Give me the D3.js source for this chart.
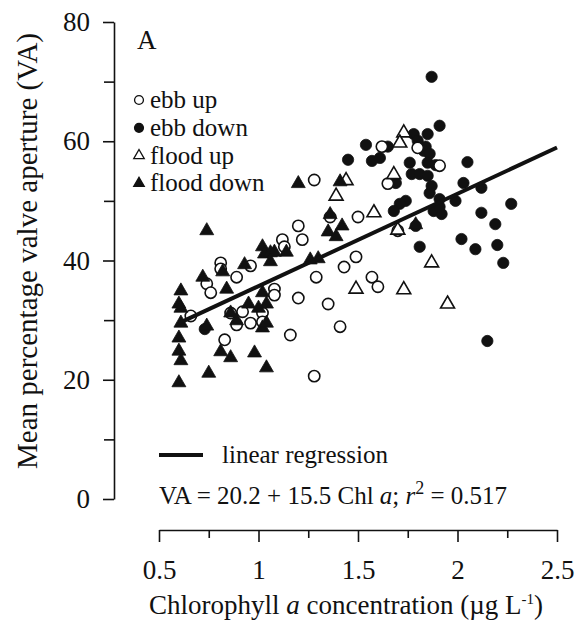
<!DOCTYPE html>
<html>
<head>
<meta charset="utf-8">
<script src="https://cdn.jsdelivr.net/npm/d3@7"></script>
<style>
  body { margin: 0; background: #fff; }
  svg text { font-family: "Liberation Serif", "Times New Roman", serif; fill: #111; }
</style>
</head>
<body>
<div class="container"></div>
<script>
// Chlorophyll a (x) vs mean percentage valve aperture (y), one array per group.
const ebbUp = [
  [1.28, 53.5], [1.65, 52.9], [1.62, 59.1], [1.80, 58.9], [1.91, 55.9], [1.70, 45.0],
  [1.50, 47.3], [1.49, 40.6], [1.43, 38.9], [1.57, 37.2], [1.60, 35.6], [1.41, 28.9],
  [1.29, 37.2], [1.35, 32.7], [1.20, 33.7], [1.16, 27.5], [1.28, 20.6], [1.20, 45.8],
  [1.22, 43.5], [1.12, 43.5], [1.13, 42.3], [0.81, 39.6], [0.81, 38.6], [0.96, 39.1],
  [0.89, 37.2], [0.74, 36.1], [0.76, 34.6], [0.66, 30.7], [0.83, 26.7], [1.08, 35.2],
  [1.08, 34.2], [0.86, 31.2], [0.92, 31.4], [0.89, 29.2], [0.96, 29.5], [1.02, 31.2],
  [1.02, 29.7], [1.36, 47.3]
];
const ebbDown = [
  [1.87, 70.8], [1.91, 62.6], [1.85, 61.2], [1.78, 61.2], [1.80, 60.1], [1.81, 59.1],
  [1.84, 59.1], [1.83, 58.4], [1.86, 57.9], [1.85, 56.4], [1.89, 56.0], [1.54, 59.4],
  [1.65, 59.1], [1.57, 56.7], [1.61, 57.2], [1.45, 56.9], [2.05, 56.5], [1.76, 56.4],
  [1.69, 53.0], [1.77, 54.5], [1.81, 54.5], [1.85, 54.2], [1.87, 52.5], [1.86, 51.3],
  [2.03, 53.0], [2.12, 52.2], [1.99, 50.0], [1.91, 50.3], [1.88, 48.3], [1.92, 47.8],
  [1.91, 49.0], [1.74, 50.0], [1.71, 49.5], [1.68, 48.3], [2.27, 49.5], [2.12, 48.0],
  [2.19, 46.1], [1.81, 42.3], [2.02, 43.6], [2.09, 41.9], [2.20, 42.6], [2.23, 39.6],
  [2.15, 26.5], [1.79, 45.8], [0.73, 28.5]
];
const floodUp = [
  [1.73, 61.4], [1.71, 59.7], [1.68, 54.4], [1.44, 53.4], [1.39, 50.8], [1.58, 48.0],
  [1.70, 45.1], [1.87, 39.6], [1.49, 35.2], [1.73, 35.1], [1.95, 32.7]
];
const floodDown = [
  [1.20, 52.9], [1.41, 53.2], [1.36, 47.7], [1.42, 45.8], [1.35, 44.8], [1.39, 44.0],
  [1.79, 46.0], [1.26, 40.1], [1.30, 40.3], [1.02, 42.3], [1.03, 41.1], [1.06, 41.3],
  [1.08, 41.4], [1.14, 41.4], [1.06, 39.8], [0.74, 45.0], [0.93, 39.3], [0.82, 38.1],
  [0.72, 37.2], [0.84, 35.2], [0.61, 34.9], [0.60, 32.7], [0.61, 32.0], [0.61, 29.5],
  [0.60, 27.0], [0.60, 24.8], [0.61, 23.2], [0.60, 19.5], [0.74, 29.0], [0.81, 24.7],
  [0.86, 23.7], [0.98, 24.5], [0.75, 21.1], [1.04, 22.0], [0.95, 32.7], [1.00, 32.0],
  [1.04, 32.7], [0.89, 29.9], [1.02, 28.7], [1.04, 29.5], [1.02, 34.6], [0.86, 31.2]
];

// regression VA = 20.2 + 15.5 Chl a
const regIntercept = 20.2;
const regSlope = 15.5;
const regRange = [0.6, 2.5];

const xMajor = [0.5, 1, 1.5, 2, 2.5];
const xMinor = [0.75, 1.25, 1.75, 2.25];
const yMajor = [0, 20, 40, 60, 80];
const yMinor = [10, 30, 50, 70];

const legendItems = ["ebb up", "ebb down", "flood up", "flood down"];

const width = 576, height = 620;

const svg = d3.select(".container").append("svg")
  .attr("width", width)
  .attr("height", height);

const x = d3.scaleLinear().domain([0.5, 2.5]).range([159, 557]);
const y = d3.scaleLinear().domain([0, 80]).range([499, 22]);

// axes (SigmaPlot style, detached)
svg.append("g").attr("transform", "translate(114,0)")
  .call(d3.axisLeft(y).tickValues(yMajor).tickSize(11).tickSizeOuter(0).tickPadding(13));
svg.append("g").attr("transform", "translate(114,0)")
  .call(d3.axisLeft(y).tickValues(yMinor).tickSize(10).tickSizeOuter(0).tickFormat(""))
  .select(".domain").remove();

svg.append("g").attr("transform", "translate(0,530)")
  .call(d3.axisBottom(x).tickValues(xMajor).tickSize(12).tickSizeOuter(0).tickPadding(18)
    .tickFormat(d => String(d)));
svg.append("g").attr("transform", "translate(0,530)")
  .call(d3.axisBottom(x).tickValues(xMinor).tickSize(8).tickSizeOuter(0).tickFormat(""))
  .select(".domain").remove();

svg.selectAll(".tick line, .domain").attr("stroke", "#111").attr("stroke-width", 1.6);
svg.selectAll(".tick text")
  .style("font-family", '"Liberation Serif", "Times New Roman", serif')
  .style("font-size", "27px")
  .attr("fill", "#111");

// axis titles
const xTitle = svg.append("text")
  .attr("x", 346).attr("y", 614)
  .attr("text-anchor", "middle")
  .style("font-size", "27px");
xTitle.append("tspan").text("Chlorophyll ");
xTitle.append("tspan").style("font-style", "italic").text("a");
xTitle.append("tspan").text(" concentration (\u00b5g L");
xTitle.append("tspan").attr("dy", -10).style("font-size", "15px").text("-1");
xTitle.append("tspan").attr("dy", 10).text(")");

svg.append("text")
  .attr("transform", "translate(37,251) rotate(-90)")
  .attr("text-anchor", "middle")
  .attr("textLength", 436)
  .attr("lengthAdjust", "spacingAndGlyphs")
  .style("font-size", "29px")
  .text("Mean percentage valve aperture (VA)");

// panel letter
svg.append("text").attr("x", 137).attr("y", 49)
  .style("font-size", "27px").text("A");

// markers
const circleSym = d3.symbol().type(d3.symbolCircle).size(100);
const triSym = d3.symbol().type(d3.symbolTriangle).size(84);

function drawSeries(data, sym, filled) {
  svg.append("g").selectAll("path")
    .data(data)
    .enter()
    .append("path")
    .attr("d", sym)
    .attr("transform", d => `translate(${x(d[0])},${y(d[1])})`)
    .attr("fill", filled ? "#111" : "#fff")
    .attr("stroke", "#111")
    .attr("stroke-width", filled ? 0.8 : 1.6);
}

drawSeries(ebbDown, circleSym, true);
drawSeries(ebbUp, circleSym, false);
drawSeries(floodUp, triSym, false);
drawSeries(floodDown, triSym, true);

// regression line
const line = d3.line().x(d => x(d)).y(d => y(regIntercept + regSlope * d));
svg.append("path")
  .attr("d", line(regRange))
  .attr("fill", "none")
  .attr("stroke", "#111")
  .attr("stroke-width", 4);

// symbol legend
const legSyms = [
  { sym: d3.symbol().type(d3.symbolCircle).size(62), filled: false },
  { sym: d3.symbol().type(d3.symbolCircle).size(62), filled: true },
  { sym: d3.symbol().type(d3.symbolTriangle).size(48), filled: false },
  { sym: d3.symbol().type(d3.symbolTriangle).size(48), filled: true }
];
const legend = svg.append("g");
legendItems.forEach((name, i) => {
  const cy = 100 + i * 27.8;
  legend.append("path")
    .attr("d", legSyms[i].sym)
    .attr("transform", `translate(139,${cy})`)
    .attr("fill", legSyms[i].filled ? "#111" : "#fff")
    .attr("stroke", "#111")
    .attr("stroke-width", 1.3);
  legend.append("text")
    .attr("x", 150).attr("y", cy + 8)
    .style("font-size", "25px")
    .text(name);
});

// regression legend + equation
svg.append("line")
  .attr("x1", 159).attr("x2", 203)
  .attr("y1", 455).attr("y2", 455)
  .attr("stroke", "#111").attr("stroke-width", 4);
svg.append("text").attr("x", 222).attr("y", 463)
  .style("font-size", "25px").text("linear regression");

const eq = svg.append("text").attr("x", 159).attr("y", 504).style("font-size", "25px");
eq.append("tspan").text("VA = 20.2 + 15.5 Chl ");
eq.append("tspan").style("font-style", "italic").text("a");
eq.append("tspan").text("; ");
eq.append("tspan").style("font-style", "italic").text("r");
eq.append("tspan").attr("dy", -10).style("font-size", "18px").text("2");
eq.append("tspan").attr("dy", 10).text(" = 0.517");
</script>
</body>
</html>
